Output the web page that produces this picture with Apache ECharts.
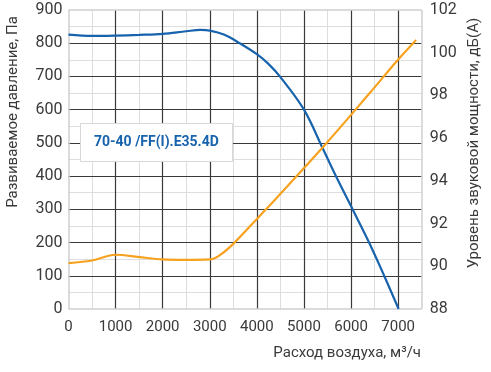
<!DOCTYPE html>
<html><head><meta charset="utf-8">
<script src="https://cdn.jsdelivr.net/npm/echarts@6/dist/echarts.min.js"></script>
<style>html,body{margin:0;padding:0;background:#fff}#c{width:491px;height:372px}</style>
</head><body><div id="c"></div>
<script>
// Pressure curve (left axis, Pa)
const pressureFlow   = [0, 500, 1000, 1500, 2000, 2500, 2800, 3000, 3300, 3636, 4000, 4250, 4500, 5000, 5400, 5720, 6040, 6390, 6710, 7010];
const pressureValues = [826, 822, 823, 825, 828, 836, 840, 838, 826, 800, 767, 737, 698, 600, 483, 388, 298, 198, 98, 0];
// Sound power curve (right axis, dB(A))
const soundFlow   = [0, 500, 1000, 1500, 2000, 2500, 3000, 3200, 3500, 3800, 4100, 4414, 5443, 6392, 6992, 7382];
const soundValues = [90.15, 90.27, 90.54, 90.43, 90.32, 90.30, 90.32, 90.5, 91.05, 91.75, 92.45, 93.19, 95.68, 98.1, 99.66, 100.6];

// Grid line positions (axis values)
const xMajorTicks = [1000, 2000, 3000, 4000, 5000, 6000, 7000];
const xMinorTicks = [500, 1500, 2500, 3500, 4500, 5500, 6500];
const yMajorTicks = [100, 200, 300, 400, 500, 600, 700, 800];
const yMinorTicks = [50, 150, 250, 350, 450, 550, 650, 750, 850];
const xExtent = [0, 7500];
const yExtent = [0, 900];

const xName = 'Расход воздуха, м³/ч';
const yLeftName = 'Развиваемое давление, Па';
const yRightName = 'Уровень звуковой мощности, дБ(А)';
const modelLabel = '70-40 /FF(I).E35.4D';

const FONT = 'Roboto';
const TXT = '#3a3a3a';
const LIGHT = '#dedede';
const DARK = '#3a3a3a';
const BORDER = '#cfcfcf';

const gridLines = [].concat(
  xMinorTicks.map(v => ({xAxis: v, lineStyle: {color: LIGHT, width: 1, type: 'solid'}})),
  yMinorTicks.map(v => ({yAxis: v, lineStyle: {color: LIGHT, width: 1, type: 'solid'}})),
  xMajorTicks.map(v => ({xAxis: v, lineStyle: {color: DARK, width: 1.2, type: 'solid'}})),
  yMajorTicks.map(v => ({yAxis: v, lineStyle: {color: DARK, width: 1.2, type: 'solid'}})),
  xExtent.map(v => ({xAxis: v, lineStyle: {color: BORDER, width: 1.5, type: 'solid'}})),
  yExtent.map(v => ({yAxis: v, lineStyle: {color: BORDER, width: 1.5, type: 'solid'}}))
);

const chart = echarts.init(document.getElementById('c'));
chart.setOption({
  animation: false,
  title: [
    {text: modelLabel, left: 80, top: 123, padding: [11, 14], backgroundColor: '#fff',
     borderColor: '#d8d8d8', borderWidth: 1, z: 10,
     textStyle: {color: '#1763ad', fontFamily: FONT, fontWeight: 'bold', fontSize: 14, lineHeight: 17}},
    {text: xName, right: 70, top: 344, padding: 0,
     textStyle: {color: TXT, fontFamily: FONT, fontWeight: 'normal', fontSize: 15, lineHeight: 18}}
  ],
  grid: {left: 68.5, right: 69.3, top: 10, bottom: 63},
  xAxis: {type: 'value', min: 0, max: 7500, interval: 1000,
    axisLine: {show: false}, axisTick: {show: false}, splitLine: {show: false},
    axisLabel: {show: true, margin: 11, fontFamily: FONT, fontSize: 15, color: TXT, showMaxLabel: false,
      formatter: function (v) { return String(v); }}},
  yAxis: [
    {type: 'value', min: 0, max: 900, interval: 100, position: 'left',
     axisLine: {show: false}, axisTick: {show: false}, splitLine: {show: false},
     axisLabel: {margin: 6, fontFamily: FONT, fontSize: 16, color: TXT}},
    {type: 'value', min: 88, max: 102, interval: 2, position: 'right',
     axisLine: {show: false}, axisTick: {show: false}, splitLine: {show: false},
     axisLabel: {margin: 8, fontFamily: FONT, fontSize: 16, color: TXT}}
  ],
  series: [
    {type: 'line', xAxisIndex: 0, yAxisIndex: 0, smooth: 0.35, showSymbol: false, z: 3,
     lineStyle: {color: '#1763ad', width: 2.2},
     data: pressureFlow.map((x, i) => [x, pressureValues[i]]),
     markLine: {silent: true, z: 1, symbol: ['none', 'none'], label: {show: false},
       emphasis: {disabled: true}, animation: false, data: gridLines}},
    {type: 'line', xAxisIndex: 0, yAxisIndex: 1, smooth: 0.35, showSymbol: false, z: 3,
     lineStyle: {color: '#f7a21e', width: 2.2},
     data: soundFlow.map((x, i) => [x, soundValues[i]])}
  ],
  graphic: [
    {type: 'text', x: 13, y: 112, rotation: Math.PI / 2,
     style: {text: yLeftName, fill: TXT, font: '15px ' + FONT, textAlign: 'center', textVerticalAlign: 'middle'}},
    {type: 'text', x: 474, y: 143, rotation: Math.PI / 2,
     style: {text: yRightName, fill: TXT, font: '15px ' + FONT, textAlign: 'center', textVerticalAlign: 'middle'}}
  ]
});
</script>
</body></html>
